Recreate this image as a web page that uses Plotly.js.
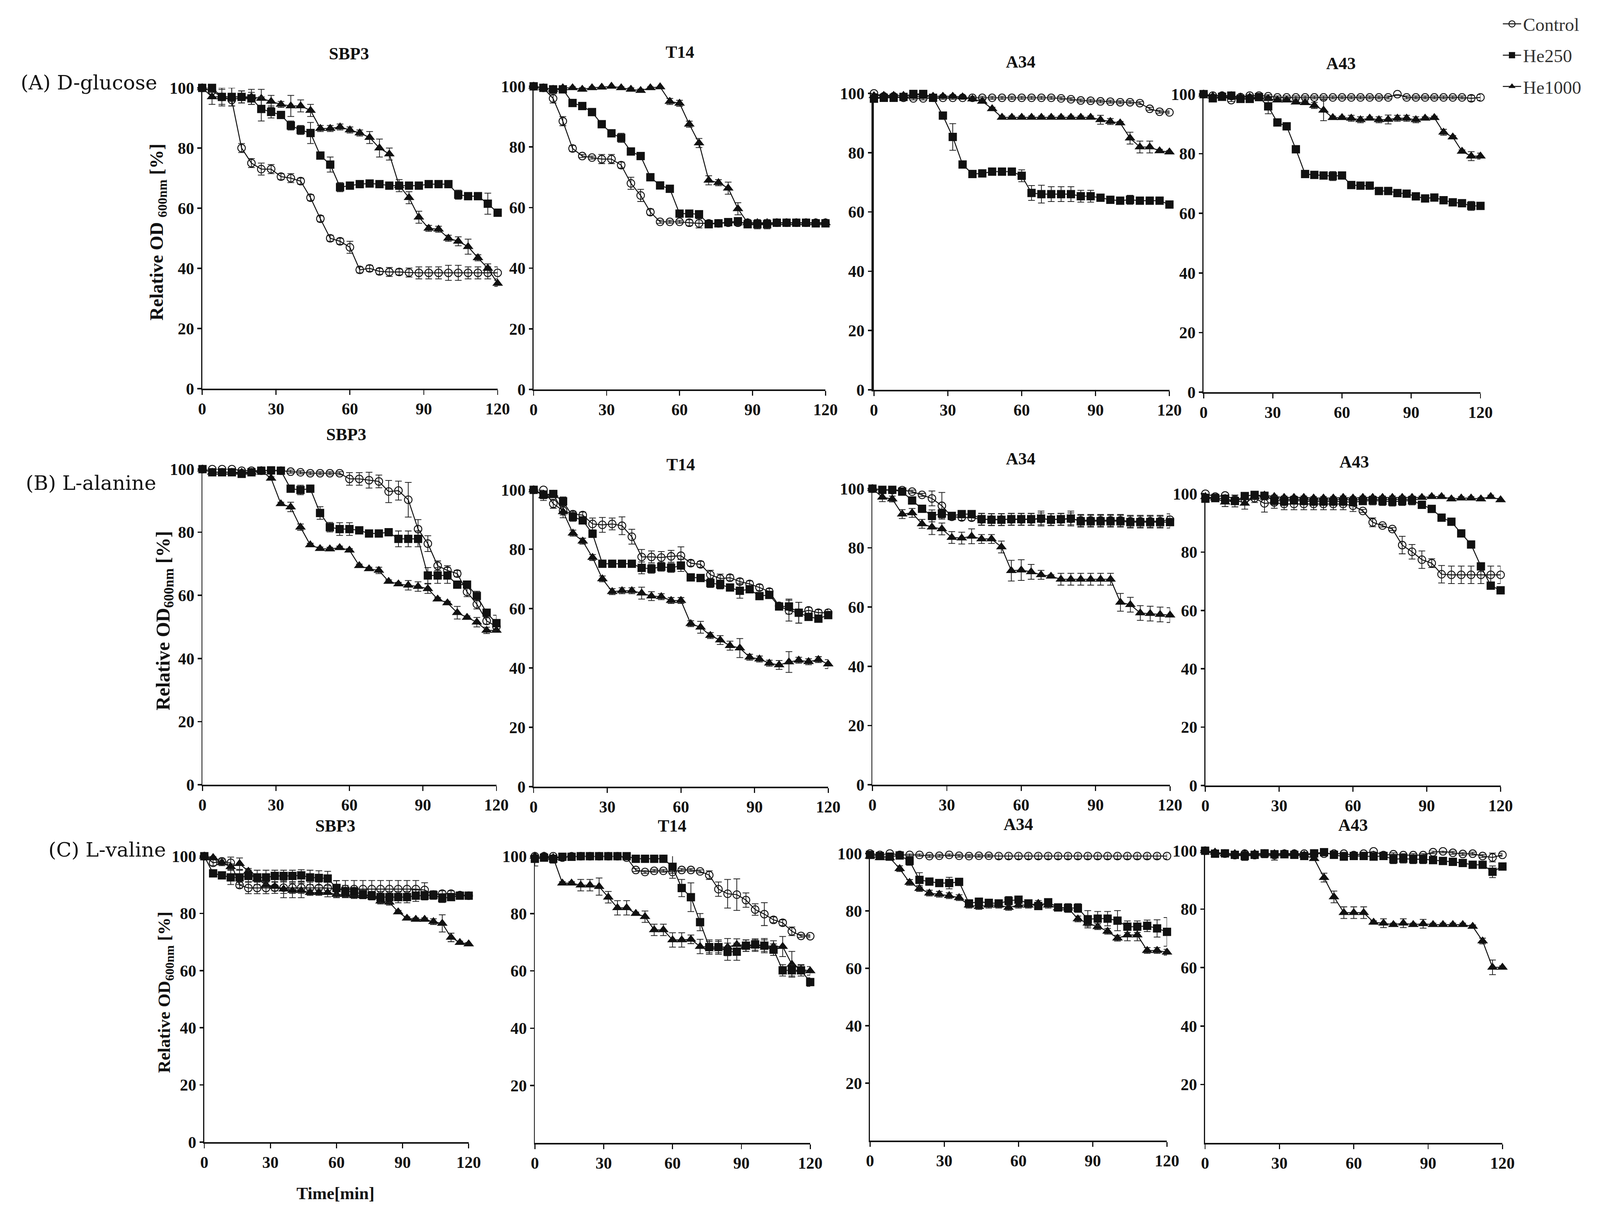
<!DOCTYPE html>
<html><head><meta charset="utf-8">
<script src="https://cdn.plot.ly/plotly-3.0.1.min.js"></script>
<style>html,body{margin:0;padding:0;background:#fff;overflow:hidden}</style>
</head><body>
<div id="chart"></div>
<script>
// ---------------- DATA ----------------
const time = [0,4,8,12,16,20,24,28,32,36,40,44,48,52,56,60,64,68,72,76,80,84,88,92,96,100,104,108,112,116,120];
const seriesNames = ['Control','He250','He1000'];
const strains = ['SBP3','T14','A34','A43'];
const rowLabels = ['(A) D-glucose','(B) L-alanine','(C) L-valine'];
const xTicks = [0,30,60,90,120];
const yTicksFull = [0,20,40,60,80,100];
const yTicksNoZero = [20,40,60,80,100];

// (A) D-glucose
const glu_SBP3_ctrl = [100,99,97,96,80,75,73,73,70.5,70,69,63.5,56.5,50,49,47,39.5,40,39,38.8,38.8,38.6,38.5,38.5,38.5,38.5,38.5,38.5,38.5,38.5,38.5];
const glu_SBP3_ctrl_se = [0,0.5,0.5,0.5,1.5,1.5,2,1.5,1,1.5,1,1,1,1,1,2,1,1,1,1.5,1,1.5,2,2,2,2.5,2.5,2,2,2,2];
const glu_SBP3_h250 = [100,100,97,97,97,96.5,93,92,91,87.5,86,85,77.5,74.5,67,67.5,68,68.2,68,67.5,67.5,67.5,67.5,68,68,68,64.5,64,64,61.5,58.5];
const glu_SBP3_h250_se = [0,0,2.5,3,2,2,4,2,1,1.5,1.5,3.5,1,2.5,1.5,1,1,1,1,1,1,1,1,1,1,1,1.5,1,1,3.5,1];
const glu_SBP3_h1000 = [100,97,97,97,97,97,96.5,95.5,94.5,94,94,92.5,86.5,86.5,87,86,85,83.5,80,78,67.5,63.5,57,53.3,53,50,49,47.2,43.5,40,35];
const glu_SBP3_h1000_se = [0,2.5,3,3,2,2.5,3,2,1,3.5,2,2,1,1,1,1,1,2,3,2,2,2,2,1,1,1,1.5,2.5,1,1.5,1];

const glu_T14_ctrl = [100,99.5,96,88.5,79.5,77,76.5,76,76,74,68,64,58.5,55.3,55.3,55.3,55,54.8,54.8,54.8,55,55,55,54.8,54.8,55,55,55,55,55,55];
const glu_T14_ctrl_se = [0,0.5,1.5,1.5,1,0.5,0.5,1.5,1.5,1,2,2,1,0.5,0.5,0.5,1,1.5,1,1,1,1,1,1,1,1,1,1,1,1,1];
const glu_T14_h250 = [100,99.5,99,99,94.5,93.5,91.5,87.5,84.5,83,78.5,77,70,67.3,66.2,58,58,57.8,54.5,54.8,55.2,55.5,54.5,54.5,54.5,55,55,55,55,54.8,54.8];
const glu_T14_h250_se = [0,0.5,0.5,1,1,1,1,1,1,1.5,1,1,1,1,1,1,1,1,1,1,1,1,1,1.5,1.5,1,1,1,1,1,1];
const glu_T14_h1000 = [100,99.5,99,99.5,99.5,99,99.5,99.7,100,99.5,99,98.6,99.5,99.8,95,94.4,87.5,81.3,69,68.2,66.4,59.6,55,55,55,55,55,55,55,55,55];
const glu_T14_h1000_se = [0,0.5,0.5,0.5,0.5,0.5,0.5,0.5,0.5,0.5,0.5,0.5,0.5,0.5,1,1,1,1.5,1.5,1,2,2,1,1,1,1,1,1,1,1,1];

const glu_A34_ctrl = [100,99,99,98.5,98.3,98.3,98.5,98.5,98.5,98.5,98.5,98.5,98.5,98.5,98.5,98.5,98.5,98.5,98.5,98.3,98,97.6,97.5,97.3,97.2,97,97,96.7,94.8,93.8,93.6];
const glu_A34_ctrl_se = [0,0.5,0.5,0.5,0.5,0.5,0.5,0.5,0.5,0.5,0.5,0.5,0.5,0.5,0.5,0.5,0.5,0.5,0.5,0.5,0.5,0.5,0.5,0.5,0.5,0.5,0.5,0.5,0.5,0.5,0.5];
const glu_A34_h250 = [98.2,98.5,98.5,98.8,99.8,99.8,98.5,92.5,85.3,76,72.8,73,73.6,73.6,73.6,72.2,66.4,66,66,66,66,65.3,65.3,64.8,64.1,63.8,64.1,63.8,63.8,63.8,62.5];
const glu_A34_h250_se = [1,1,1,1,0.5,0.5,0.5,1,4.5,1,1,1,1,1,1,2,2.5,3,2.5,2.5,2.5,2,2,1,1,1,1.5,1,1,1,1];
const glu_A34_h1000 = [99.2,99.3,99.3,99.3,99.5,99.5,99,99,99,98.8,98.1,97.3,94.8,91.9,91.9,91.9,91.9,91.9,91.9,91.9,91.9,91.9,91.9,91.1,90.5,90,84.9,81.9,81.9,80.6,80.2];
const glu_A34_h1000_se = [0,0.5,0.5,0.5,0.5,0.5,0.5,0.5,0.5,0.5,0.5,0.5,0.5,0.5,0.5,0.5,0.5,0.5,0.5,0.5,0.5,0.5,0.5,1.5,1,0.5,2,2,2,0.5,0.5];

const glu_A43_ctrl = [100,99.5,99.5,98,99,99.5,99.5,99.3,98.9,98.9,98.9,98.9,98.9,98.9,98.9,98.9,98.9,98.9,98.9,98.9,98.9,100,98.9,98.9,98.9,98.9,98.9,98.9,98.9,98.6,98.9];
const glu_A43_ctrl_se = [0,0.5,0.5,0.5,0.5,0.5,0.5,0.5,0.5,0.5,0.5,0.5,0.5,0.5,0.5,0.5,0.5,0.5,0.5,0.5,0.5,0.5,0.5,0.5,0.5,0.5,0.5,0.5,0.5,1,1];
const glu_A43_h250 = [100,98.6,99.1,99.5,98.4,98.4,99,95.9,90.5,89.2,81.5,73.2,72.9,72.7,72.5,72.7,69.5,69.3,69.3,67.5,67.5,66.8,66.6,65.7,65,65.3,64.4,63.7,63.4,62.5,62.5];
const glu_A43_h250_se = [0,1,1,1,1,1,1,2.5,1,1,1,1,1,1,1.5,1,1,1,1,1,1,1,1,1,1,1,1,1,1,1.5,1];
const glu_A43_h1000 = [100,99.3,99.5,99.5,99,99,99,98.5,98,98,97.3,97.1,96.2,94.6,92.1,92.1,91.9,91.4,91.9,91.4,91.5,91.9,91.9,91.4,91.9,92.1,87.2,85.6,80.8,79.2,79.2];
const glu_A43_h1000_se = [0,0.5,0.5,0.5,0.5,0.5,0.5,0.5,0.5,0.5,0.5,0.5,1,3.5,0.5,0.5,1,1,0.5,1,1.5,1,1,1,0.5,0.5,1,0.5,0.5,1.5,1];

// (B) L-alanine
const ala_SBP3_ctrl = [100,100,100,100,99.5,99.5,99.5,99.5,99.5,99.2,99,98.7,98.7,98.7,98.7,96.9,96.9,96.5,96.1,92.9,93.2,90.3,81,76.4,69.4,67.9,66.9,61.1,57.2,51.9,50.1];
const ala_SBP3_ctrl_se = [0,0.5,0.5,0.5,0.5,0.5,0.5,0.5,0.5,0.5,0.5,0.5,0.5,0.5,0.5,2,2,2.5,2,3.5,3,5.5,3,2.5,1.5,1.5,1,1.5,1.5,1,1];
const ala_SBP3_h250 = [100,99,99,99,98.5,99,99.5,99.6,99.5,93.8,93.4,93.8,86.1,81.6,81,81,80.6,79.6,79.6,80,77.9,77.9,77.9,66.3,66.3,66.3,63.4,63.4,59.8,54.5,51.2];
const ala_SBP3_h250_se = [0,0.5,0.5,0.5,1,0.5,0.5,0.5,0.5,1,1.5,1,2,1.5,2,2,1,1,1,1,2.5,2.5,2.5,2.5,2.5,2.5,1,1,1.5,1,2.5];
const ala_SBP3_h1000 = [100,99,99,99,99,99,99.5,97.1,89,88,81.6,76,74.8,74.7,75.1,74.3,69.4,68.4,67.9,64.4,63.6,63.2,62.8,62.1,58.8,57.6,54.5,53,51.5,48.9,48.9];
const ala_SBP3_h1000_se = [0,0.5,0.5,0.5,0.5,0.5,0.5,0.5,0.5,1.5,1,0.5,0.5,0.5,0.5,0.5,0.5,0.5,1,0.5,0.5,1.5,1.5,1.5,0.5,0.5,2,0.5,1.5,1,0.5];

const ala_T14_ctrl = [100,100,95.3,93,91.8,91.5,88.5,88.2,88.5,87.9,84.2,77.4,77.4,77.2,77.6,77.8,75.3,74.9,71.4,70.1,70.4,69.1,68.3,67.1,65.7,60.9,59.3,58.6,59.4,58.6,58.6];
const ala_T14_ctrl_se = [0,0.5,1.5,1.5,1,1,2,2.5,2,3,2.5,2.5,2,2,2,3,1,1,1.5,1.5,1,1,1,1,1,1,3.5,3.5,1,1,1];
const ala_T14_h250 = [100,98.4,98.6,96.1,90.9,89.7,85.2,75.1,75.1,75.1,75.1,73.7,73.4,74.1,73.7,74.5,70.5,70.3,68.6,68.1,67.1,66,66.5,64.2,64.6,60.7,60.7,58.6,57.2,56.6,57.8];
const ala_T14_h250_se = [0,2,1,1.5,1.5,1,1,1,1,1,1,2,1.5,1.5,1.5,2,1,1,1.5,1.5,1,2.5,1,1,1,1,2.5,3.5,1,1,1];
const ala_T14_h1000 = [100,98,98.5,92.6,85.4,82.7,77.2,70,65.7,66,66,65.2,64.2,64,62.7,62.7,54.9,53.7,50.9,49.4,47.5,46.7,43.6,43,41.6,41,42,42.6,42.1,42.8,41.3];
const ala_T14_h1000_se = [0,1,1,2,1,1,1,1,1,1,1,2,1.5,1,1,1,1,2,1,1.5,1.5,3.2,1,1,1,1.5,3.5,1,1,1,1.5];

const ala_A34_ctrl = [100,99.5,99.5,99.5,99,97.9,96.7,94.2,90.5,90.3,90.2,89.6,89.6,89.6,89.6,89.6,89.6,89.8,89.6,89.6,89.8,89.3,89.3,89.3,89.3,89.3,89,89,89,89,89.5];
const ala_A34_ctrl_se = [0,0.5,0.5,0.5,0.5,0.5,2.5,4.5,1,1,1,2,2,2,2,2,2,2,2,2,2,2,2,2,2,2,2,2,2,2,2];
const ala_A34_h250 = [100,99.6,99.6,99,96,93.2,90.8,91.6,90.8,91.4,91.4,89.7,89.5,89.5,89.7,89.7,89.7,89.9,89.5,89.7,89.9,89,89,89,89,89,88.7,88.7,88.7,88.7,88.7];
const ala_A34_h250_se = [0,0.5,0.5,0.5,1,1,2,1.5,1,1,1,2,2,2,2,2,2,2.5,2,2,2.5,2,2,2,2,2,2,2,2,2,2];
const ala_A34_h1000 = [100,97.1,96.5,91.4,91.8,88.1,87,86.4,83.5,83.3,83.9,83,83,80.3,72.3,72.5,71.9,70.9,70.4,69.4,69.4,69.4,69.4,69.4,69.4,61.6,60.8,58,57.8,57.5,57.3];
const ala_A34_h1000_se = [0,1.5,1,1.5,1.5,1.5,2.5,2,2,2,2.5,1.5,1.5,2,3.5,3.5,2.5,1.5,0.5,2,2,2,2,2,2,3,2.5,2.5,2.5,2.5,2.5];

const ala_A43_ctrl = [100,99,99.4,98,98,98.5,96.7,97,96.5,96.5,96.5,96.5,96.5,96.5,96.5,95.9,94.1,90.2,89.1,87.9,82.4,80.1,77.4,76.2,72.4,72.2,72.2,72.2,72.2,72.2,72.2];
const ala_A43_ctrl_se = [0,1,1,1.5,1.5,1.5,3,2,2,2,2,2,2,2,2,2,0.5,1.5,0.5,0.5,3,2.5,3,1.5,3,3,3,3,3,3,3];
const ala_A43_h250 = [98.3,98.5,98.3,97.5,99.2,99.6,99.3,97.7,97.5,97.7,97.5,97.3,97.3,97.3,97.3,97.1,97.5,97.7,97.5,97.3,97.5,97.7,96.2,94.8,91.8,90.4,86.4,82.6,75.1,68.5,66.9];
const ala_A43_h250_se = [1,1,1,2,1,1,1,1.5,1.5,1,1,1,1,1,1,1,1,1.5,1.5,1.5,1.5,1.5,1,0.5,0.5,1,1,1,1,1,1];
const ala_A43_h1000 = [99,98.5,97.1,98,96.7,99,99.5,99,98.7,98.7,98.7,98.5,98.5,98.5,98.7,98.5,98.7,98.7,98.7,98.7,98.7,98.7,98.7,99,99,98.2,98.5,98.5,98.2,99,97.9];
const ala_A43_h1000_se = [0,1,1.5,1.5,2,1,0.5,0.5,0.5,0.5,0.5,0.5,0.5,0.5,0.5,0.5,0.5,0.5,0.5,0.5,0.5,0.5,0.5,0.5,0.5,0.5,0.5,0.5,0.5,0.5,0.5];

// (C) L-valine
const val_SBP3_ctrl = [100,97.7,98.2,97.7,89.9,88.9,88.9,88.9,89,89,89,89,88.9,88.9,88.9,88.5,88.5,88.5,88.5,88.5,88.5,88.5,88.5,88.5,88.5,88.2,86.6,86.9,86.9,86.4,86.2];
const val_SBP3_ctrl_se = [0,1,1,2,1,2,2,2,2,2,2,2,2,2,2,3,3,3,3,3,3,3,3,3,3,2.5,1,1,1,1,1];
const val_SBP3_h250 = [100,94,93.3,92.6,92.6,93.1,92.6,92.6,93.1,93.1,93.1,93.3,92.6,92.4,92.2,88.9,87.8,87.6,86.6,86.2,85.7,85.7,85.7,85.7,86.2,86.2,86.4,85.3,85.7,86.2,86.2];
const val_SBP3_h250_se = [0,1,1,2.5,2.5,2,2.5,2.5,2,2,2,2,2.5,2.5,2.5,2.5,2,1.5,1.5,1.5,2,2,2,2,2,1.5,1.5,1.5,1,1,1];
const val_SBP3_h1000 = [100,99.5,97.7,96.3,97.4,94.7,92,90,89.4,88.5,88,88,87.3,87.3,87.3,86.6,86.6,86.2,86.2,86.2,84.3,83.9,80.5,78.3,77.9,77.9,77.1,76.5,71.6,69.8,69.3];
const val_SBP3_h1000_se = [0,0.5,1,1,2,1,1,1,1.5,3,2.5,2.5,1,1,1.5,1,1,1,1,1,1,1,0.5,0.5,0.5,0.5,1,3,1.5,0.5,0.5];

const val_T14_ctrl = [100,100,100,99.5,100,100,100,100,100,100,99.5,95.2,94.5,94.9,94.9,94.5,95.2,95.2,94.7,93.4,88.5,86.9,86.6,84.7,81.4,79.8,77.8,76.8,73.8,72.2,72.1];
const val_T14_ctrl_se = [0,0.5,0.5,0.5,0.5,0.5,0.5,0.5,0.5,0.5,0.5,0.5,0.5,0.5,0.5,0.5,0.5,0.5,0.5,1.5,2.5,5,5.5,2.5,2,4,1,1,1.5,0.5,0.5];
const val_T14_h250 = [99.1,99.5,99.1,99.8,99.8,100,100,100,100,100,100,99.1,99.1,99.1,99.1,96.3,88.9,85.7,77,68.3,68.3,66.7,66.7,68.8,69.2,68.8,67.4,60.2,60.2,60.2,56.1];
const val_T14_h250_se = [2.5,0.5,1.5,0.5,0.5,0.5,0.5,0.5,0.5,0.5,0.5,0.5,0.5,0.5,0.5,4,3,5,3,2.5,2.5,3,3,2,2,2.5,2,2,2,2,1.5];
const val_T14_h1000 = [100,100,99.5,90.6,90.6,89.9,89.9,89.4,85.7,82,82,80,78.9,74.3,74.3,70.8,70.8,71,68.5,68.3,68.3,68.3,69.2,68.8,68.8,68.8,68.5,68.5,62.3,60.5,60];
const val_T14_h1000_se = [0,0.5,0.5,0.5,0.5,2,2,3,2,2.5,2.5,0.5,2,2,2,2.5,2.5,1.5,2.5,2,2,3,2,2,2,2,2,3.5,4.5,1.5,1.5];

const val_A34_ctrl = [100,99.5,100,99.5,99.5,99.5,99.1,99.2,99.5,99.2,99.1,99.2,99.2,99.1,99.1,99.1,99.1,99.1,99.1,99.1,99.1,99.1,99.1,99.1,99.1,99.1,99.1,99.1,99.1,99.1,99.1];
const val_A34_ctrl_se = [0,0.5,0.5,0.5,0.5,0.5,0.5,0.5,0.5,0.5,0.5,0.5,0.5,1,1,1,1,1,1,1,1,1,1,1,1,1,1,1,1,1,1];
const val_A34_h250 = [99.5,99.1,98.9,99.3,97.4,90.8,90.2,89.7,89.7,90.1,82.6,83.2,82.8,82.6,83.5,83.9,82.6,81.7,83,81.2,81,81,77.1,77.3,77.3,76.6,74.5,74.5,74.8,73.9,72.7];
const val_A34_h250_se = [0.5,0.5,1,0.5,1.5,2.5,1,1,2,1,1,1,1,1,1.5,1,1,1,1,1,1.5,1.5,3,2.5,2.5,3.5,2,2,2,3,5];
const val_A34_h1000 = [99,98.5,98.5,94.7,89.9,87.8,86.2,85.8,85.3,84.6,82,81.5,82,82,81.2,82,82,82.6,82,81,81,77.2,75.7,74.5,72.9,70.5,71.6,71.6,66.2,66.2,65.6];
const val_A34_h1000_se = [0,0.5,0.5,1,1,1,1,1,1,1,1,1,1,1,1,1,1,1,1,1,1,1,1,1,1,1,2,2,1,1,1];

const val_A43_ctrl = [100,99.1,99,98.5,99,98.5,99,98.5,99,99,99,99,99,99,99,98.5,99,99.8,98.5,98.8,98.5,98.5,98.5,99.5,99.8,99.3,98.9,99,98.2,97.7,98.6];
const val_A43_ctrl_se = [0,0.5,0.5,0.5,0.5,0.5,0.5,0.5,0.5,0.5,0.5,0.5,0.5,0.5,0.5,0.5,0.5,0.5,0.5,0.5,0.5,0.5,0.5,0.5,0.5,0.5,0.5,0.5,0.5,1.5,0.5];
const val_A43_h250 = [100,99,99.1,98.6,98.2,98.6,99.1,98.8,98.8,98.6,98.2,99.1,99.5,98.6,98,98.2,98.2,98,98.2,97.1,97.3,97.1,97.1,96.8,96.5,96.2,95.8,95.2,95.2,92.8,94.6];
const val_A43_h250_se = [0,0.5,0.5,0.5,1.5,0.5,1.5,2,0.5,0.5,1,0.5,1,0.5,0.5,0.5,0.5,0.5,0.5,1.5,1.5,1.5,1.5,1,0.5,0.5,0.5,0.5,0.5,2,1];
const val_A43_h1000 = [100,99.5,99,99,99,99,99,99,99,99,98.5,97.3,90.8,84.2,78.8,78.8,78.8,75.5,75.2,74.7,75.2,74.7,75,74.7,74.7,74.7,74.7,74.1,69.1,60.1,60.1];
const val_A43_h1000_se = [0,0.5,0.5,0.5,0.5,0.5,0.5,0.5,0.5,0.5,0.5,0.5,1.5,2,2,2,2,0.5,1.5,0.5,1.5,0.5,1.5,0.5,0.5,0.5,0.5,0.5,1,2.5,0.5];

// ---------------- LAYOUT GEOMETRY (reference pixels, mapped onto the viewport) ----------------
const W = 5247, H = 3108;
const vw = window.innerWidth || document.documentElement.clientWidth || W;
const vh = window.innerHeight || document.documentElement.clientHeight || H;
const SX = vw / W, SY = vh / H;
const SF = Math.min(SY, 1.3 * SX);          // font scale
const SM = Math.sqrt(SX * SY);              // marker scale
const fs = v => v * SF, ms = v => v * SM, hx = v => v * SX, hy = v => v * SY;

const geom = [
  {x0:663, x1:1632, yT:225, yB:995, tx:1144, ty:137},
  {x0:1750,x1:2707, yT:221, yB:997, tx:2229, ty:134},
  {x0:2866,x1:3835, yT:239, yB:998, tx:3347, ty:159},
  {x0:3947,x1:4855, yT:241, yB:1004,tx:4398, ty:162},
  {x0:664, x1:1628, yT:1201,yB:2009,tx:1136, ty:1112},
  {x0:1750,x1:2716, yT:1254,yB:2014,tx:2232, ty:1189},
  {x0:2861,x1:3837, yT:1251,yB:2009,tx:3347, ty:1175},
  {x0:3953,x1:4921, yT:1264,yB:2011,tx:4441, ty:1182},
  {x0:670, x1:1537, yT:2192,yB:2924,tx:1100, ty:2114},
  {x0:1754,x1:2657, yT:2192,yB:2926,tx:2204, ty:2114},
  {x0:2853,x1:3827, yT:2185,yB:2920,tx:3340, ty:2110},
  {x0:3952,x1:4927, yT:2178,yB:2926,tx:4437, ty:2112}
];

const panelData = [
  [glu_SBP3_ctrl,glu_SBP3_ctrl_se,glu_SBP3_h250,glu_SBP3_h250_se,glu_SBP3_h1000,glu_SBP3_h1000_se],
  [glu_T14_ctrl,glu_T14_ctrl_se,glu_T14_h250,glu_T14_h250_se,glu_T14_h1000,glu_T14_h1000_se],
  [glu_A34_ctrl,glu_A34_ctrl_se,glu_A34_h250,glu_A34_h250_se,glu_A34_h1000,glu_A34_h1000_se],
  [glu_A43_ctrl,glu_A43_ctrl_se,glu_A43_h250,glu_A43_h250_se,glu_A43_h1000,glu_A43_h1000_se],
  [ala_SBP3_ctrl,ala_SBP3_ctrl_se,ala_SBP3_h250,ala_SBP3_h250_se,ala_SBP3_h1000,ala_SBP3_h1000_se],
  [ala_T14_ctrl,ala_T14_ctrl_se,ala_T14_h250,ala_T14_h250_se,ala_T14_h1000,ala_T14_h1000_se],
  [ala_A34_ctrl,ala_A34_ctrl_se,ala_A34_h250,ala_A34_h250_se,ala_A34_h1000,ala_A34_h1000_se],
  [ala_A43_ctrl,ala_A43_ctrl_se,ala_A43_h250,ala_A43_h250_se,ala_A43_h1000,ala_A43_h1000_se],
  [val_SBP3_ctrl,val_SBP3_ctrl_se,val_SBP3_h250,val_SBP3_h250_se,val_SBP3_h1000,val_SBP3_h1000_se],
  [val_T14_ctrl,val_T14_ctrl_se,val_T14_h250,val_T14_h250_se,val_T14_h1000,val_T14_h1000_se],
  [val_A34_ctrl,val_A34_ctrl_se,val_A34_h250,val_A34_h250_se,val_A34_h1000,val_A34_h1000_se],
  [val_A43_ctrl,val_A43_ctrl_se,val_A43_h250,val_A43_h250_se,val_A43_h1000,val_A43_h1000_se]
];

// ---------------- BUILD ----------------
const INK = '#111';
const SERIF = 'Liberation Serif, Times New Roman, serif';
const tickFont = {family:SERIF, size:fs(42), color:INK, weight:'bold'};
const traces = [];
const layout = {
  width:vw, height:vh, margin:{l:0,r:0,t:0,b:0},
  paper_bgcolor:'#fff', plot_bgcolor:'rgba(0,0,0,0)',
  showlegend:true,
  legend:{x:4922/W, y:1-24/H, xanchor:'left', yanchor:'top',
          font:{family:SERIF, size:fs(47), color:'#333'},
          bgcolor:'rgba(0,0,0,0)', itemwidth:Math.max(30, hx(60)), tracegroupgap:hy(16), traceorder:'grouped'},
  annotations:[]
};
document.getElementById('chart').style.width = vw+'px';
document.getElementById('chart').style.height = vh+'px';

const styles = [
  {name:seriesNames[0], symbol:'circle-open', size:22, rank:1},
  {name:seriesNames[1], symbol:'square', size:24, rank:2},
  {name:seriesNames[2], symbol:'triangle-up', size:27, rank:3}
];
const drawOrder = [0,2,1];

geom.forEach((g,i)=>{
  const n = i+1;
  const xa = n===1 ? 'xaxis' : 'xaxis'+n;
  const ya = n===1 ? 'yaxis' : 'yaxis'+n;
  const xr = n===1 ? 'x' : 'x'+n;
  const yr = n===1 ? 'y' : 'y'+n;
  const yt = (i>8) ? yTicksNoZero : yTicksFull;
  layout[xa] = {
    domain:[g.x0/W, g.x1/W], anchor:yr, range:[0,120],
    tickvals:xTicks, ticktext:xTicks.map(String),
    showline:true, linecolor:INK, linewidth:hy(3.5), ticks:'outside', ticklen:hy(12), tickwidth:hx(3.5), tickcolor:INK,
    showgrid:false, zeroline:false, tickfont:tickFont, fixedrange:true
  };
  layout[ya] = {
    domain:[1-g.yB/H, 1-g.yT/H], anchor:xr, range:[0,100],
    tickvals:yt, ticktext:yt.map(String),
    showline:true, linecolor:INK, linewidth:hx(i===2?8:3.5), ticks:'outside', ticklen:hx(12), tickwidth:hy(3.5), tickcolor:INK,
    showgrid:false, zeroline:false, tickfont:tickFont, fixedrange:true
  };
  const d = panelData[i];
  drawOrder.forEach(s=>{
    const st = styles[s];
    traces.push({
      type:'scatter', mode:'lines+markers', x:time, y:d[s*2],
      xaxis:xr, yaxis:yr, name:st.name, legendgroup:st.name, legendrank:st.rank,
      showlegend:(i===0), cliponaxis:false,
      line:{color:INK, width:ms(2.8)},
      marker:{symbol:st.symbol, size:ms(st.size), color:INK, line:{color:INK, width:(s===0?ms(2.6):0)}},
      error_y:{type:'data', array:d[s*2+1], visible:true, color:'#222', thickness:hx(2.6), width:hx(11)}
    });
  });
  layout.annotations.push({
    xref:'paper', yref:'paper', x:g.tx/W, y:1-g.ty/H, xanchor:'center', yanchor:'middle',
    text:strains[i%4], showarrow:false,
    font:{family:SERIF, size:fs(44), color:INK, weight:'bold'}
  });
});

// Row labels
const rowPos = [{x:292,y:212},{x:298,y:1236},{x:352,y:2175}];
rowLabels.forEach((t,r)=>{
  layout.annotations.push({
    xref:'paper', yref:'paper', x:rowPos[r].x/W, y:1-rowPos[r].y/H, xanchor:'center', yanchor:'middle',
    text:t, showarrow:false, font:{family:'DejaVu Serif', size:fs(51), color:INK}
  });
});

// Y-axis titles
const yTitles = [
  {x:517, y:594, text:'Relative OD <sub>600nm</sub> [%]', size:48},
  {x:539, y:1589, text:'Relative OD<sub>600nm</sub> [%]', size:50},
  {x:542, y:2541, text:'Relative OD<sub>600nm</sub> [%]', size:45}
];
yTitles.forEach(t=>{
  layout.annotations.push({
    xref:'paper', yref:'paper', x:t.x/W, y:1-t.y/H, xanchor:'center', yanchor:'middle',
    text:t.text, textangle:-90, showarrow:false,
    font:{family:SERIF, size:fs(t.size), color:INK, weight:'bold'}
  });
});

// X-axis title
layout.annotations.push({
  xref:'paper', yref:'paper', x:1100/W, y:1-3055/H, xanchor:'center', yanchor:'middle',
  text:'Time[min]', showarrow:false,
  font:{family:SERIF, size:fs(44), color:INK, weight:'bold'}
});

Plotly.newPlot('chart', traces, layout, {staticPlot:true});
</script>
</body></html>
